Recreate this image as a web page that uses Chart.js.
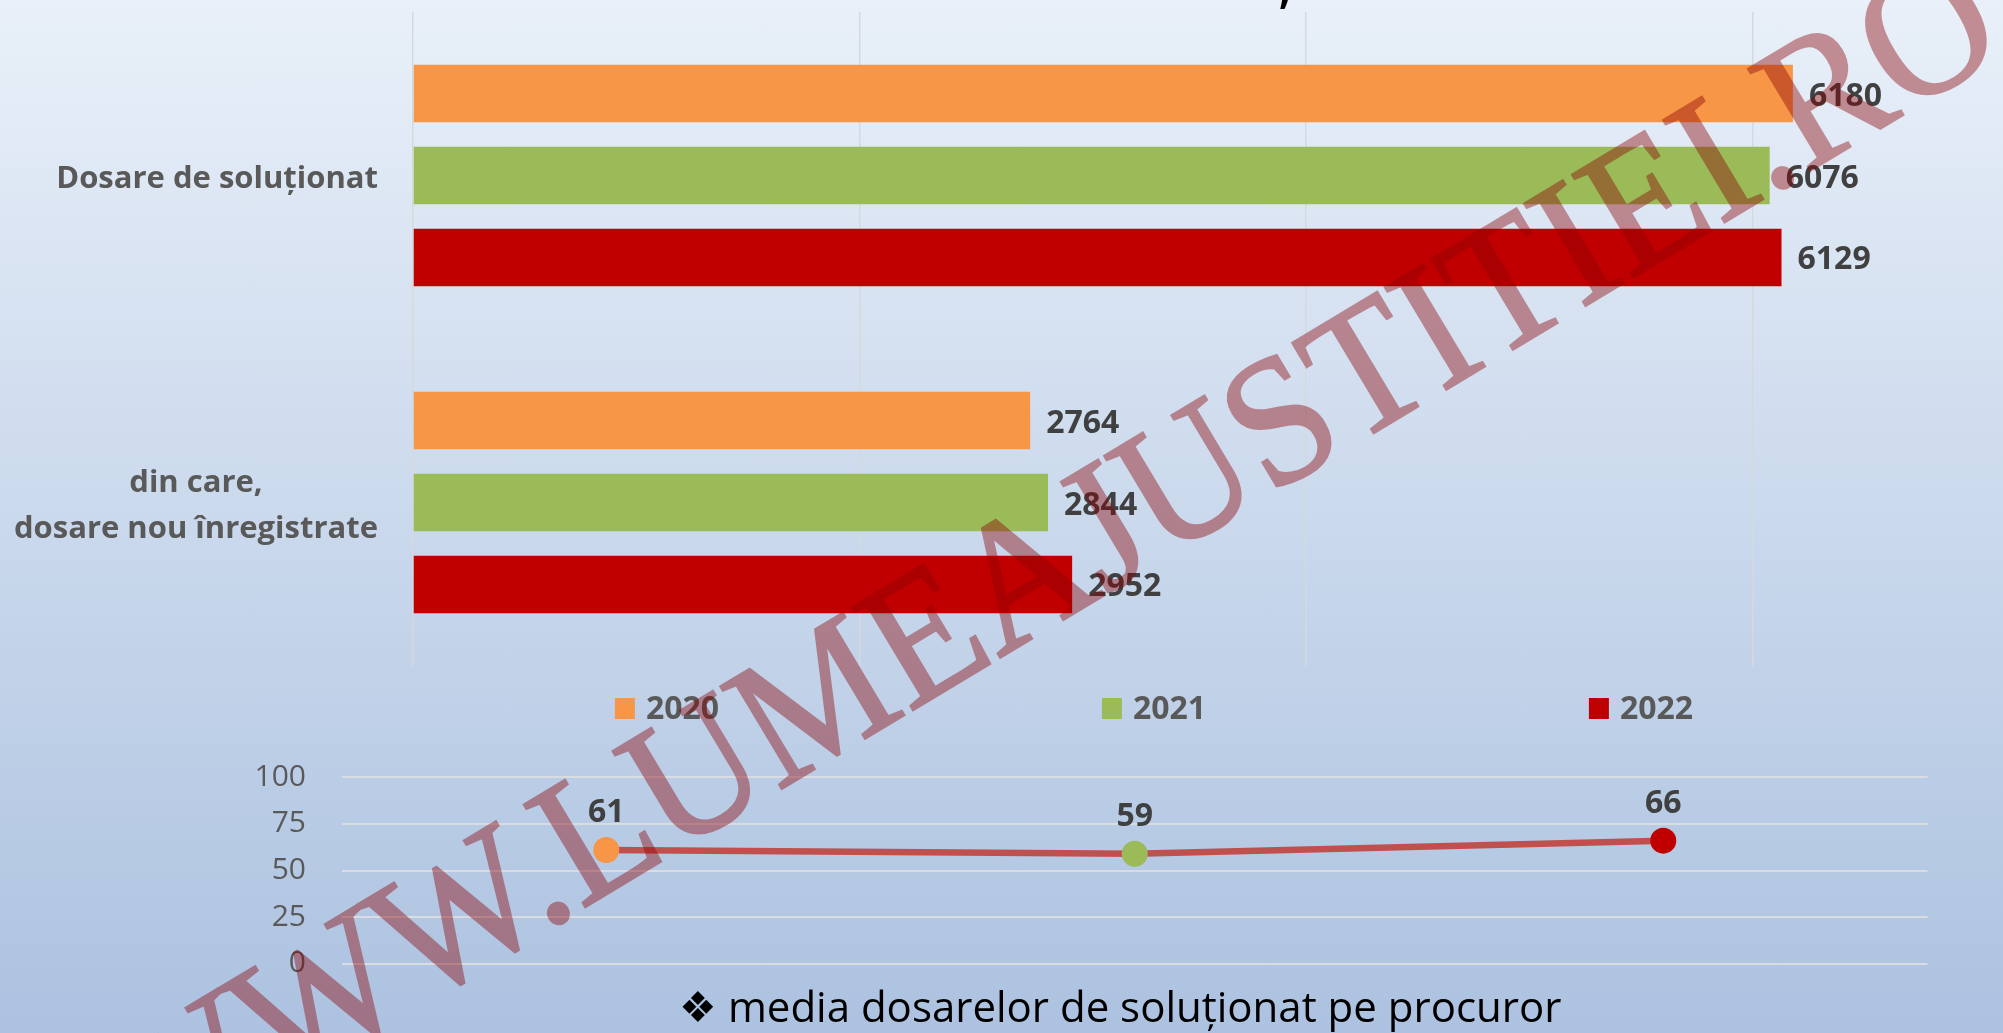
<!DOCTYPE html>
<html>
<head>
<meta charset="utf-8">
<script src="https://cdn.jsdelivr.net/npm/chart.js@4.4.1/dist/chart.umd.min.js"></script>
<style>
  html, body { margin: 0; padding: 0; }
  body {
    width: 2003px; height: 1033px; overflow: hidden; position: relative;
    background: linear-gradient(to bottom, #e9f0f9 0%, #acc2e0 100%);
    font-family: "Open Sans", sans-serif;
  }
  #barCanvas { position: absolute; left: 0; top: 0; }
  #lineCanvas { position: absolute; left: 235px; top: 740px; }
  #title {
    position: absolute; left: 679px; top: 985px; font-size: 42px; line-height: 42px;
    color: #000; white-space: nowrap; font-family: "Open Sans", sans-serif;
  }
  #cut {
    position: absolute; left: 1279px; top: -31px; font-size: 40px; line-height: 40px;
    font-weight: 700; color: #000;
  }
  #wm {
    position: absolute; left: 62px; top: 1044px; font-family: "Liberation Serif", serif;
    font-weight: 400; font-size: 182px; line-height: 1; white-space: nowrap;
    color: rgb(140, 0, 4); -webkit-text-stroke: 2.5px rgb(140, 0, 4); opacity: 0.41;
    transform-origin: 0 0; transform: rotate(-31deg) scaleX(0.945); pointer-events: none;
  }
</style>
</head>
<body>
<canvas id="barCanvas" width="2003" height="740" style="width:2003px;height:740px"></canvas>
<canvas id="lineCanvas" width="1768" height="250" style="width:1768px;height:250px"></canvas>
<div id="cut">,</div>
<div id="title">❖ media dosarelor de soluționat pe procuror</div>
<div id="wm">WWW.LUMEAJUSTITIEI.RO</div>
<script>
// ---- data ----
const categories = ['Dosare de soluționat', ['din care,', 'dosare nou înregistrate']];
const years = ['2020', '2021', '2022'];
const values2020 = [6180, 2764];
const values2021 = [6076, 2844];
const values2022 = [6129, 2952];
const yearColors = ['#f79646', '#9bbb59', '#c00000'];
const barGridTicks = [0, 2000, 4000, 6000];
const mediaPerProcuror = [61, 59, 66];
const mediaTicks = [0, 25, 50, 75, 100];

const FONT = '"Open Sans", sans-serif';

// keep the plot area exactly where the reference has it
function pinArea(chart, target) {
  for (let i = 0; i < 6; i++) {
    const a = chart.chartArea;
    const p = chart.config.options.layout.padding;
    const dt = target.top - a.top, db = a.bottom - target.bottom;
    const dl = target.left - a.left, dr = a.right - target.right;
    if (Math.abs(dt) + Math.abs(db) + Math.abs(dl) + Math.abs(dr) < 0.3) break;
    p.top += dt; p.bottom += db; p.left += dl; p.right += dr;
    chart.update();
  }
}

// ---- bar chart plugins ----
const barDecor = {
  id: 'barDecor',
  afterDatasetsDraw(chart) {
    const ctx = chart.ctx;
    ctx.save();
    ctx.font = '700 32px ' + FONT;
    ctx.fillStyle = '#404040';
    ctx.textAlign = 'left';
    ctx.textBaseline = 'alphabetic';
    chart.data.datasets.forEach((ds, di) => {
      const meta = chart.getDatasetMeta(di);
      meta.data.forEach((el, i) => {
        ctx.fillText(String(ds.data[i]), el.x + 16, el.y + 12);
      });
    });
    ctx.restore();
  },
  afterDraw(chart) {
    const ctx = chart.ctx;
    const yScale = chart.scales.y;
    ctx.save();
    // category labels
    ctx.font = '700 31px ' + FONT;
    ctx.fillStyle = '#595959';
    ctx.textAlign = 'center';
    ctx.textBaseline = 'alphabetic';
    const rightEdge = chart.chartArea.left - 35;
    const lineGap = 46;
    chart.data.labels.forEach((lab, i) => {
      const lines = Array.isArray(lab) ? lab : [lab];
      const widest = Math.max(...lines.map(l => ctx.measureText(l).width));
      const cx = rightEdge - widest / 2;
      const yc = yScale.getPixelForValue(i);
      const first = yc - (lines.length - 1) * lineGap / 2 + 12;
      lines.forEach((l, k) => ctx.fillText(l, cx, first + k * lineGap));
    });
    // legend
    ctx.font = '700 32px ' + FONT;
    ctx.textAlign = 'left';
    const legendCenter = 1154, legendStep = 487, box = 20, gap = 11, baseY = 719;
    chart.data.datasets.forEach((ds, di) => {
      const tw = ctx.measureText(ds.label).width;
      const total = box + gap + tw;
      const cx = legendCenter + (di - 1) * legendStep;
      const x0 = cx - total / 2;
      ctx.fillStyle = ds.backgroundColor;
      ctx.fillRect(x0, baseY - 21, box, 21);
      ctx.fillStyle = '#595959';
      ctx.fillText(ds.label, x0 + box + gap, baseY);
    });
    ctx.restore();
  }
};

const barChart = new Chart(document.getElementById('barCanvas'), {
  type: 'bar',
  data: {
    labels: categories,
    datasets: [
      { label: years[0], data: values2020, backgroundColor: yearColors[0] },
      { label: years[1], data: values2021, backgroundColor: yearColors[1] },
      { label: years[2], data: values2022, backgroundColor: yearColors[2] }
    ]
  },
  options: {
    indexAxis: 'y',
    responsive: false,
    animation: false,
    categoryPercentage: 0.752,
    barPercentage: 0.701,
    layout: { padding: { top: 12, right: 27, bottom: 74, left: 0 } },
    plugins: { legend: { display: false }, tooltip: { enabled: false } },
    scales: {
      x: {
        min: 0, max: 7000,
        afterBuildTicks(s) { s.ticks = barGridTicks.map(v => ({ value: v })); },
        ticks: { display: false },
        grid: { color: '#d6d9dc', lineWidth: 1.5, drawTicks: false },
        border: { display: false },
        afterFit(s) { s.height = 0; }
      },
      y: {
        ticks: { display: false },
        grid: { display: false, drawTicks: false },
        border: { display: false },
        afterFit(s) { s.width = 413; }
      }
    }
  },
  plugins: [barDecor]
});
pinArea(barChart, { left: 413, top: 12, right: 1976, bottom: 666 });

// ---- line chart ----
const lineLabels = {
  id: 'lineLabels',
  afterDatasetsDraw(chart) {
    const ctx = chart.ctx;
    ctx.save();
    ctx.font = '700 32px ' + FONT;
    ctx.fillStyle = '#404040';
    ctx.textAlign = 'center';
    ctx.textBaseline = 'alphabetic';
    const ds = chart.data.datasets[0];
    chart.getDatasetMeta(0).data.forEach((el, i) => {
      ctx.fillText(String(ds.data[i]), el.x, el.y - 28);
    });
    ctx.restore();
  }
};

const lineChart = new Chart(document.getElementById('lineCanvas'), {
  type: 'line',
  data: {
    labels: years,
    datasets: [{
      label: 'media',
      data: mediaPerProcuror,
      borderColor: '#c0504d',
      borderWidth: 6.5,
      pointRadius: 13,
      pointHoverRadius: 13,
      pointBackgroundColor: yearColors,
      pointBorderWidth: 0,
      tension: 0,
      clip: false
    }]
  },
  options: {
    responsive: false,
    animation: false,
    layout: { padding: { top: 37.3, right: 75.5, bottom: 26.3, left: 0 } },
    plugins: { legend: { display: false }, tooltip: { enabled: false } },
    scales: {
      x: {
        type: 'category', offset: true,
        ticks: { display: false },
        grid: { display: false, drawTicks: false },
        border: { display: false },
        afterFit(s) { s.height = 0; }
      },
      y: {
        min: mediaTicks[0], max: mediaTicks[mediaTicks.length - 1],
        afterBuildTicks(s) { s.ticks = mediaTicks.map(v => ({ value: v })); },
        ticks: { font: { family: FONT, size: 30 }, color: '#595959', padding: 0 },
        grid: { color: '#d9dde2', lineWidth: 2, drawTicks: true, tickLength: 36, tickColor: 'rgba(0,0,0,0)' },
        border: { display: false },
        afterFit(s) { s.width = 107; }
      }
    }
  },
  plugins: [lineLabels]
});
pinArea(lineChart, { left: 107, top: 37.3, right: 1692.5, bottom: 223.7 });
</script>
</body>
</html>
